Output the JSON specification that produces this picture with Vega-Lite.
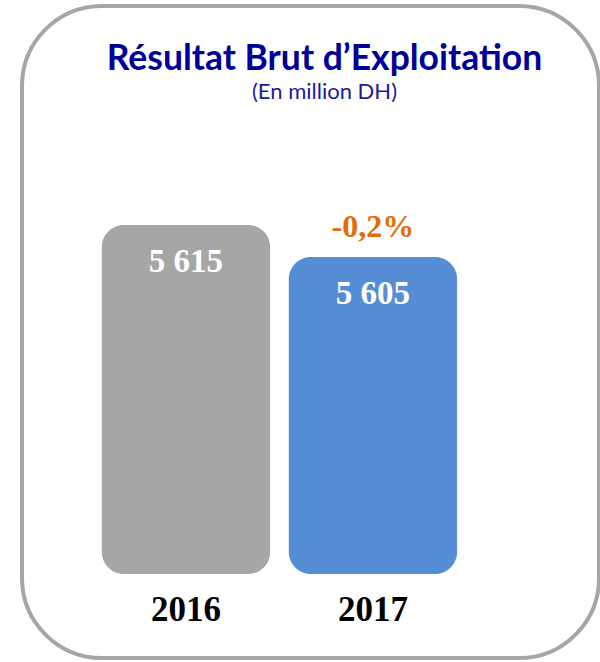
{
  "$schema": "https://vega.github.io/schema/vega-lite/v6.json",
  "width": 577,
  "height": 652,
  "autosize": {"type": "none"},
  "padding": {"left": 22, "top": 6, "right": 1, "bottom": 4},
  "background": "white",
  "config": {
    "view": {"stroke": "#a6a6a6", "strokeWidth": 4, "cornerRadius": 80}
  },
  "title": {
    "text": "Résultat Brut d’Exploitation",
    "subtitle": "(En million DH)",
    "anchor": "middle",
    "offset": -97,
    "dx": 14,
    "font": "Lato",
    "fontSize": 35.5,
    "fontWeight": "bold",
    "color": "#000099",
    "subtitleFont": "Lato",
    "subtitleFontSize": 22,
    "subtitleColor": "#1a1a9c",
    "subtitlePadding": 5
  },
  "data": {
    "values": [
      {"year": "2016", "value": 5615, "label": "5 615", "change": null},
      {"year": "2017", "value": 5605, "label": "5 605", "change": "-0,2%"}
    ]
  },
  "encoding": {
    "x": {
      "field": "year",
      "type": "nominal",
      "sort": null,
      "scale": {"type": "band", "paddingInner": 0.1, "paddingOuter": 0.593, "align": 0.36, "round": false},
      "axis": {
        "title": null,
        "domain": false,
        "ticks": false,
        "labelAngle": 0,
        "offset": -38,
        "labelPadding": 0,
        "labelBaseline": "alphabetic",
        "labelFont": "Liberation Serif",
        "labelFontWeight": "bold",
        "labelFontSize": 35,
        "labelColor": "#000000"
      }
    }
  },
  "layer": [
    {
      "mark": {"type": "bar", "cornerRadius": 22},
      "encoding": {
        "y": {
          "field": "value",
          "type": "quantitative",
          "scale": {"domain": [5479.69, 5683.44], "zero": false, "nice": false},
          "axis": null
        },
        "y2": {"datum": 5505.94},
        "color": {
          "field": "year",
          "type": "nominal",
          "scale": {"domain": ["2016", "2017"], "range": ["#a6a6a6", "#558ed5"]},
          "legend": null
        }
      }
    },
    {
      "mark": {"type": "text", "baseline": "alphabetic", "dy": 47, "font": "Liberation Serif", "fontWeight": "bold", "fontSize": 33, "color": "white"},
      "encoding": {
        "y": {"field": "value", "type": "quantitative"},
        "text": {"field": "label"}
      }
    },
    {
      "transform": [{"filter": "datum.change != null"}],
      "mark": {"type": "text", "baseline": "alphabetic", "dy": -20, "font": "Liberation Serif", "fontWeight": "bold", "fontSize": 32, "color": "#e46c0a"},
      "encoding": {
        "y": {"field": "value", "type": "quantitative"},
        "text": {"field": "change"}
      }
    }
  ]
}
